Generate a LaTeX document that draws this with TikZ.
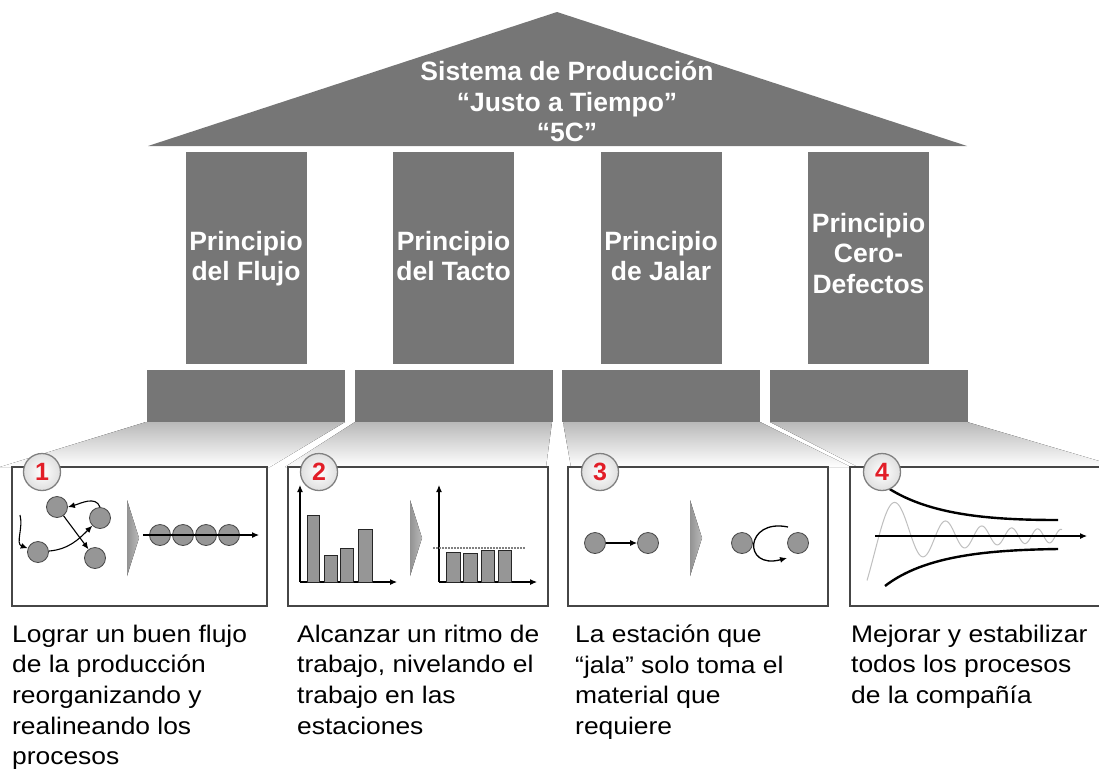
\documentclass[tikz,border=0pt]{standalone}
\usepackage{fontspec}
\setmainfont{Liberation Sans}
\newfontfamily\descfont[FakeStretch=1.1]{Liberation Sans}
\usetikzlibrary{arrows.meta}
\definecolor{piedra}{RGB}{118,118,118}
\definecolor{bolita}{RGB}{150,150,150}
\definecolor{borde}{RGB}{70,70,70}
\definecolor{rojo}{RGB}{226,30,40}
\tikzset{
  rotulo/.style={text=white,font=\fontsize{26.5}{30.5}\selectfont\bfseries,align=center,inner sep=0pt,anchor=north},
  suelo/.style={top color=gray!55,bottom color=white,draw=none},
  caja/.style={draw=borde,line width=1.2pt,fill=white},
  insignia/.style={circle,draw=gray,line width=1.3pt,inner color=white,outer color=gray!25,minimum size=37pt,inner sep=0pt,text=rojo,font=\fontsize{25}{25}\selectfont\bfseries},
  bolita/.style={circle,draw=borde,fill=bolita,line width=0.8pt,minimum size=21pt,inner sep=0pt},
  flecha/.style={-{Latex[length=7pt,width=6pt]},line width=1.1pt},
  galon/.style={left color=gray!85,right color=gray!55,draw=none},
  barra/.style={draw=black!85,fill=bolita,line width=1pt},
  texto/.style={font=\descfont\fontsize{24}{30.7}\selectfont,align=left,anchor=north west,inner sep=0pt},
}
\begin{document}
\begin{tikzpicture}[x=1pt,y=-1pt]
\useasboundingbox (0,0) rectangle (1099,774);
% techo, columnas y bases
\fill[piedra] (148,146) -- (557,12) -- (967,146) -- cycle;
\node[rotulo] (techo) at (567,61) {Sistema de Producción\\“Justo a Tiempo”\\“5C”};
\foreach \i in {1,...,4}{
  \fill[piedra] ({246+207.5*(\i-1)-60.5},152) rectangle ++(121,212);
  \fill[piedra] ({246+207.5*(\i-1)-99},370) rectangle ++(198,52);
}
\node[rotulo] (p1) at (246,231) {Principio\\del Flujo};
\node[rotulo] (p2) at (453.5,231) {Principio\\del Tacto};
\node[rotulo] (p3) at (661,231) {Principio\\de Jalar};
\node[rotulo] (p4) at (868.5,213) {Principio\\Cero-\\Defectos};
\fill[suelo] (146,422) -- (345,422) -- (270,467) -- (0,467) -- cycle;
\fill[suelo] (355,422) -- (552,422) -- (546,467) -- (285,467) -- cycle;
\fill[suelo] (563,422) -- (760,422) -- (851,467) -- (571,467) -- cycle;
\fill[suelo] (770,422) -- (967,422) -- (1099,461) -- (1099,467) -- (858,467) -- cycle;
% cajas
\draw[caja] (12,467) rectangle (267,606);
\draw[caja] (288,467) rectangle (548,606);
\draw[caja] (568,467) rectangle (828,606);
\draw[caja] (1110,467) -- (850,467) -- (850,606) -- (1110,606);
\foreach \gx in {127,410,690}
  \fill[galon] (\gx,500) -- (\gx+12,538) -- (\gx,576) -- cycle;
% 1
\node[bolita] (a) at (57,507) {};
\node[bolita] (b) at (100,518) {};
\node[bolita] (c) at (38,552) {};
\node[bolita] (d) at (95,558) {};
\coordinate (entrada) at (20,515);
\draw[flecha] (entrada) to[out=-75,in=160] (c);
\draw[flecha] (c) to[out=5,in=-135] (b);
\draw[flecha] (b.north) to[out=110,in=15] (a.east);
\draw[flecha] (a) -- (d);
\foreach \k in {1,...,4}
  \node[bolita] (f\k) at ({137+23*\k},535) {};
\coordinate (fini) at (143,535);
\coordinate (ffin) at (259,535);
\draw[flecha] (fini) -- (ffin);
% 2
\coordinate (o1) at (300,582);
\coordinate (o2) at (439,582);
\draw[flecha] (o1) -- ++(0,-97);
\draw[flecha] (o1) -- ++(97,0);
\draw[flecha] (o2) -- ++(0,-97);
\draw[flecha] (o2) -- ++(98,0);
\draw[barra] (307,582) rectangle (319,515);
\draw[barra] (324,582) rectangle (337,555);
\draw[barra] (340,582) rectangle (353,548);
\draw[barra] (358,582) rectangle (372,529);
\draw[barra] (446,582) rectangle (460,552);
\draw[barra] (463,582) rectangle (477,553);
\draw[barra] (481,582) rectangle (494,550);
\draw[barra] (498,582) rectangle (511,550);
\draw[gray,line width=1.5pt,dash pattern=on 2pt off 1pt] (433,548) -- (525,548);
% 3
\node[bolita] (g1) at (595,543) {};
\node[bolita] (g2) at (648,543) {};
\draw[flecha] (g1) -- (g2);
\node[bolita] (h1) at (742,543) {};
\node[bolita] (h2) at (798,543) {};
\coordinate (cA) at (788,527);
\coordinate (cB) at (787,558);
\draw[flecha,line width=1.3pt] (cA) .. controls (745,518) and (742,570) .. (cB);
% 4
\coordinate (e0) at (875,536);
\coordinate (e1) at (1087,536);
\draw[gray!50,line width=1pt] plot[domain=0:195,samples=220]
  ({867+\x},{536-(6+52*exp(-\x/45))*sin(-50+3.8*\x+0.032*\x*\x)});
\draw[flecha] (e0) -- (e1);
\draw[line width=2.4pt] (888,488) .. controls (930,515) and (990,520) .. (1058,520);
\draw[line width=2.4pt] (885,586) .. controls (925,555) and (990,550) .. (1058,549);
% insignias
\node[insignia] (n1) at (42,472) {1};
\node[insignia] (n2) at (319,472) {2};
\node[insignia] (n3) at (600,472) {3};
\node[insignia] (n4) at (882,472) {4};
% textos
\node[texto] (t1) at (12,624.5) {Lograr un buen flujo\\de la producción\\reorganizando y\\realineando los\\procesos};
\node[texto] (t2) at (297,624.5) {Alcanzar un ritmo de\\trabajo, nivelando el\\trabajo en las\\estaciones};
\node[texto] (t3) at (575,624.5) {La estación que\\“jala” solo toma el\\material que\\requiere};
\node[texto] (t4) at (851,624.5) {Mejorar y estabilizar\\todos los procesos\\de la compañía};
\end{tikzpicture}
\end{document}
